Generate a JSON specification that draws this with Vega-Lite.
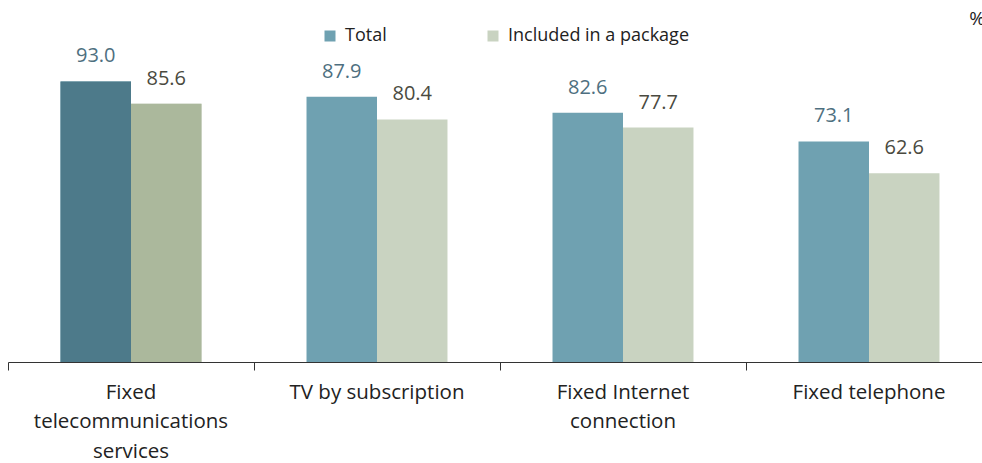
{
  "$schema": "https://vega.github.io/schema/vega-lite/v6.json",
  "width": 984,
  "height": 362,
  "autosize": {"type": "none"},
  "padding": {"left": 8, "top": 0, "right": 0, "bottom": 101},
  "background": "white",
  "config": {"view": {"stroke": null}, "font": "Open Sans"},
  "title": {"text": "%", "anchor": "end", "orient": "top", "frame": "group", "baseline": "top", "dy": 33, "dx": -7, "fontSize": 19, "fontWeight": "normal", "color": "#222222", "font": "Open Sans"},
  "data": {"values": [
    {"category": "Fixed telecommunications services", "series": "Total", "value": 93.0},
    {"category": "Fixed telecommunications services", "series": "Included in a package", "value": 85.6},
    {"category": "TV by subscription", "series": "Total", "value": 87.9},
    {"category": "TV by subscription", "series": "Included in a package", "value": 80.4},
    {"category": "Fixed Internet connection", "series": "Total", "value": 82.6},
    {"category": "Fixed Internet connection", "series": "Included in a package", "value": 77.7},
    {"category": "Fixed telephone", "series": "Total", "value": 73.1},
    {"category": "Fixed telephone", "series": "Included in a package", "value": 62.6}
  ]},
  "encoding": {
    "x": {
      "field": "category", "type": "nominal",
      "sort": ["Fixed telecommunications services", "TV by subscription", "Fixed Internet connection", "Fixed telephone"],
      "scale": {"paddingInner": 0, "paddingOuter": 0},
      "axis": {
        "title": null, "labelAngle": 0, "bandPosition": 0,
        "domainColor": "#333333", "tickColor": "#333333", "tickSize": 8,
        "labelFontSize": 20.5, "labelColor": "#222222", "labelFont": "Open Sans",
        "labelLineHeight": 29.5, "labelPadding": 12, "labelLimit": 0,
        "labelOverlap": false, "labelBound": false, "labelFlush": false,
        "labelAlign": "center",
        "labelExpr": "datum.value == 'Fixed telecommunications services' ? ['Fixed', 'telecommunications', 'services'] : datum.value == 'Fixed Internet connection' ? ['Fixed Internet', 'connection'] : datum.value"
      }
    },
    "xOffset": {"field": "series", "type": "nominal", "sort": ["Total", "Included in a package"], "scale": {"paddingOuter": 0.745, "paddingInner": 0}},
    "y": {"field": "value", "type": "quantitative", "scale": {"domain": [0, 120]}, "axis": null}
  },
  "layer": [
    {
      "mark": {"type": "bar"},
      "encoding": {
        "color": {
          "field": "series", "type": "nominal",
          "scale": {"domain": ["Total", "Included in a package"], "range": ["#6fa1b1", "#c9d3c1"]},
          "legend": {
            "title": null, "orient": "none", "legendX": 313, "legendY": 27, "direction": "horizontal",
            "symbolType": "square", "symbolSize": 121, "symbolStrokeWidth": 0,
            "labelFontSize": 18, "labelColor": "#222222", "labelFont": "Open Sans", "labelLimit": 0,
            "columnPadding": 97, "labelOffset": 6
          }
        }
      }
    },
    {
      "transform": [{"filter": "datum.category == 'Fixed telecommunications services'"}],
      "mark": {"type": "bar"},
      "encoding": {
        "color": {
          "field": "series", "type": "nominal",
          "scale": {"domain": ["Total", "Included in a package"], "range": ["#4d7a8a", "#abb89c"]},
          "legend": null
        }
      }
    },
    {
      "mark": {"type": "text", "baseline": "alphabetic", "dy": -19, "fontSize": 20, "font": "Open Sans"},
      "encoding": {
        "text": {"field": "value", "type": "quantitative", "format": ".1f"},
        "color": {
          "field": "series", "type": "nominal",
          "scale": {"domain": ["Total", "Included in a package"], "range": ["#4e6f80", "#4a4a40"]},
          "legend": null
        }
      }
    }
  ],
  "resolve": {"scale": {"color": "independent"}}
}
